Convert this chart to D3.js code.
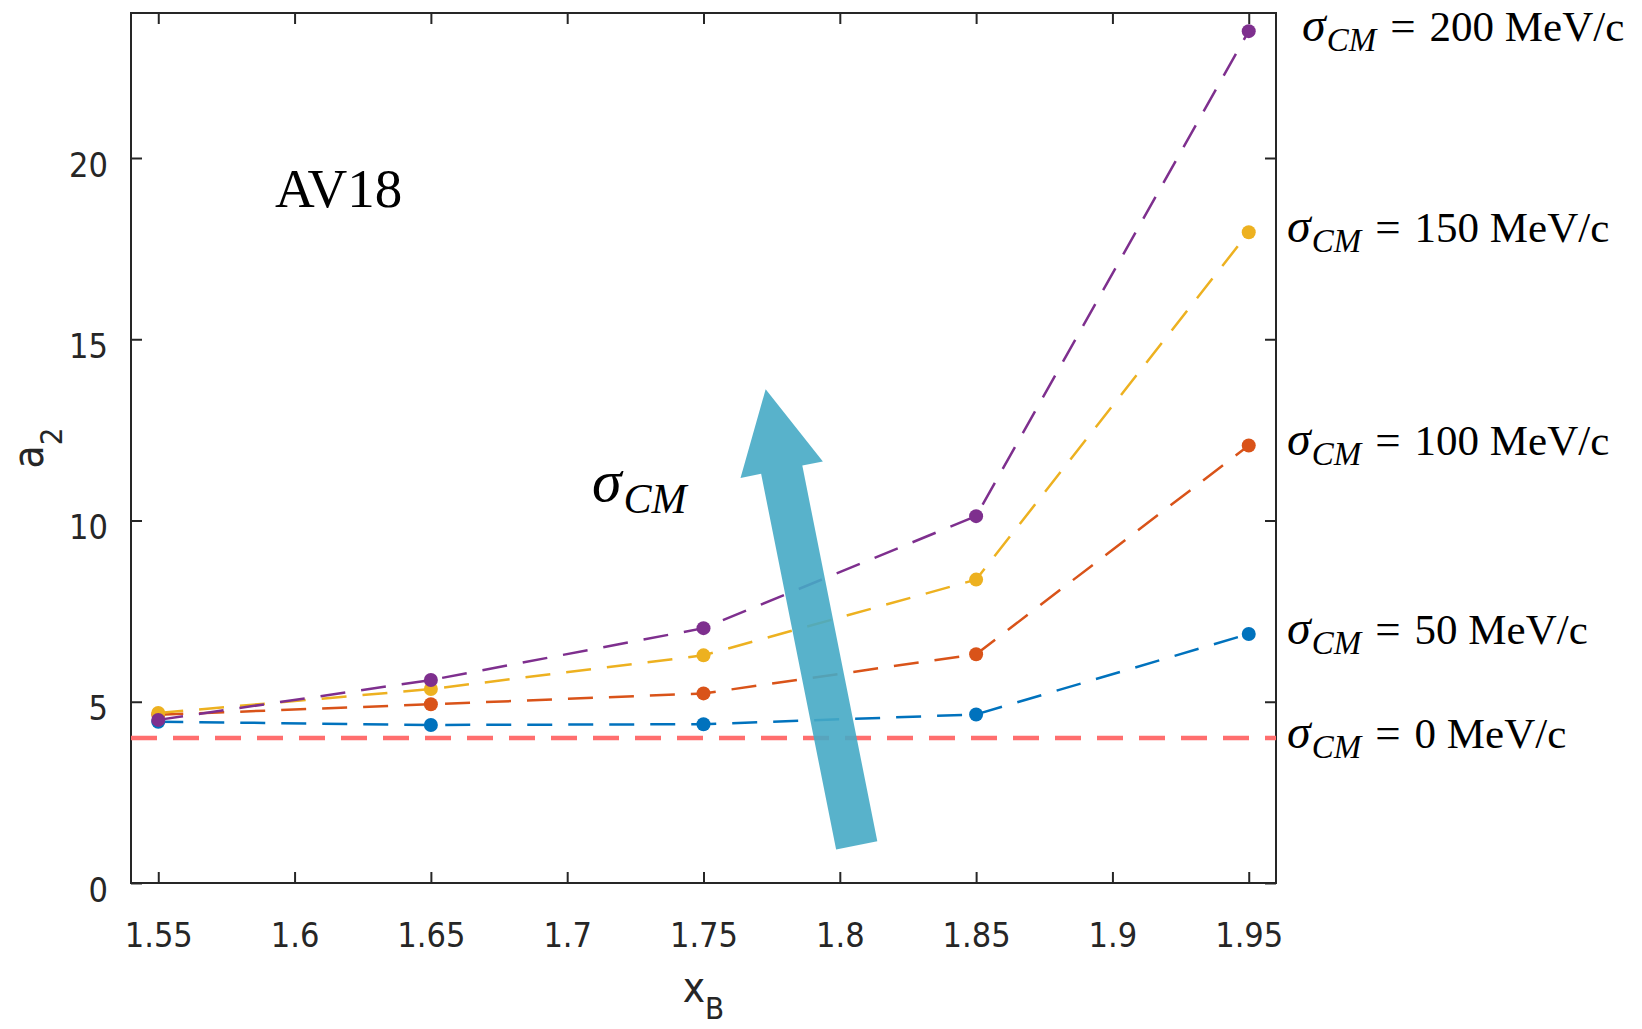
<!DOCTYPE html>
<html>
<head>
<meta charset="utf-8">
<script src="https://cdn.jsdelivr.net/npm/d3@7"></script>
<style>
  body { margin: 0; background: #fff; }
  svg { display: block; }
</style>
</head>
<body>
<div id="chart"></div>
<script>
let width = 1642, height = 1029;
let margin = {left: 131, right: 366, top: 13, bottom: 146};
let plotW = width - margin.left - margin.right,
    plotH = height - margin.top - margin.bottom;

// data
let xValues = [1.55, 1.65, 1.75, 1.85, 1.95];
let a2_50 = [4.45, 4.36, 4.38, 4.65, 6.87];
let a2_100 = [4.64, 4.93, 5.23, 6.31, 12.07];
let a2_150 = [4.69, 5.35, 6.28, 8.37, 17.95];
let a2_200 = [4.50, 5.60, 7.03, 10.12, 23.50];
let a2_0 = 4.0;

let seriesNames = ['50', '100', '150', '200'];
let seriesValues = [a2_50, a2_100, a2_150, a2_200];
let seriesColors = ['#0072bd', '#d95319', '#edb120', '#7e2f8e'];

let xTicks = [1.55, 1.6, 1.65, 1.7, 1.75, 1.8, 1.85, 1.9, 1.95];
let xTickLabels = ['1.55', '1.6', '1.65', '1.7', '1.75', '1.8', '1.85', '1.9', '1.95'];
let yTicks = [0, 5, 10, 15, 20];
let yTickLabels = ['0', '5', '10', '15', '20'];
let xDomain = [1.54, 1.96], yDomain = [0, 24];

// annotation anchors, in data units
let arrowTail = [1.8062, 1.04], arrowTip = [1.7728, 13.62];
let av18Pos = [1.5928, 18.65];
let sigmaPos = [1.7091, 10.55];

let axisColor = '#262626';
let tickFont = "'DejaVu Sans Condensed', 'DejaVu Sans', sans-serif";
let serif = "'Liberation Serif', 'Times New Roman', serif";

let svg = d3.select('#chart')
    .append('svg')
    .attr('width', width)
    .attr('height', height)
    .style('background', '#fff');

let g = svg.append('g')
    .attr('transform', `translate(${margin.left},${margin.top})`);

let x = d3.scaleLinear().domain(xDomain).range([0, plotW]);
let y = d3.scaleLinear().domain(yDomain).range([plotH, 0]);

// axes, ticks pointing in
let xAxis = g.append('g')
    .attr('transform', `translate(0,${plotH})`)
    .call(d3.axisBottom(x).tickValues(xTicks).tickFormat((d, i) => xTickLabels[i])
        .tickSizeInner(-11).tickSizeOuter(0).tickPadding(0));
xAxis.selectAll('text').attr('dy', null).attr('y', 64);

let yAxis = g.append('g')
    .call(d3.axisLeft(y).tickValues(yTicks).tickFormat((d, i) => yTickLabels[i])
        .tickSizeInner(-11).tickSizeOuter(0).tickPadding(23));
yAxis.selectAll('text').attr('dy', null).attr('y', 18);

g.append('g')
    .call(d3.axisTop(x).tickValues(xTicks).tickFormat('').tickSizeInner(-11).tickSizeOuter(0));
g.append('g')
    .attr('transform', `translate(${plotW},0)`)
    .call(d3.axisRight(y).tickValues(yTicks).tickFormat('').tickSizeInner(-11).tickSizeOuter(0));

g.selectAll('.domain').remove();
g.selectAll('.tick line').attr('stroke', axisColor).attr('stroke-width', 2);
g.selectAll('.tick text')
    .attr('fill', axisColor)
    .style('font-family', tickFont)
    .style('font-stretch', 'condensed')
    .style('font-size', '34px');

g.append('rect')
    .attr('width', plotW)
    .attr('height', plotH)
    .attr('fill', 'none')
    .attr('stroke', axisColor)
    .attr('stroke-width', 2);

// sigma_CM = 0 reference line
g.append('line')
    .attr('x1', x(xDomain[0]))
    .attr('x2', x(xDomain[1]))
    .attr('y1', y(a2_0))
    .attr('y2', y(a2_0))
    .attr('stroke', '#ff6e6e')
    .attr('stroke-width', 4.5)
    .attr('stroke-dasharray', '26 16');

let line = d3.line()
    .x((d, i) => x(xValues[i]))
    .y(d => y(d));

seriesValues.forEach((vals, k) => {
    g.append('path')
        .datum(vals)
        .attr('d', line)
        .attr('fill', 'none')
        .attr('stroke', seriesColors[k])
        .attr('stroke-width', 2.5)
        .attr('stroke-dasharray', '25 16');
    g.selectAll('.pt' + k)
        .data(vals)
        .enter()
        .append('circle')
        .attr('cx', (d, i) => x(xValues[i]))
        .attr('cy', d => y(d))
        .attr('r', 7)
        .attr('fill', seriesColors[k]);
});

// big arrow
let tail = [x(arrowTail[0]), y(arrowTail[1])],
    tip = [x(arrowTip[0]), y(arrowTip[1])];
let len = Math.hypot(tip[0] - tail[0], tip[1] - tail[1]);
let ux = (tip[0] - tail[0]) / len, uy = (tip[1] - tail[1]) / len;
let nx = -uy, ny = ux;
let shaftW = 21, headW = 42, headL = 82;
let base = [tip[0] - ux * headL, tip[1] - uy * headL];
let arrowPts = [
    [tail[0] + nx * shaftW, tail[1] + ny * shaftW],
    [base[0] + nx * shaftW, base[1] + ny * shaftW],
    [base[0] + nx * headW, base[1] + ny * headW],
    tip,
    [base[0] - nx * headW, base[1] - ny * headW],
    [base[0] - nx * shaftW, base[1] - ny * shaftW],
    [tail[0] - nx * shaftW, tail[1] - ny * shaftW]
];
g.append('path')
    .attr('d', d3.line()(arrowPts) + 'Z')
    .attr('fill', '#46aac5')
    .attr('fill-opacity', 0.9);

// text annotations
g.append('text')
    .attr('x', x(av18Pos[0]))
    .attr('y', y(av18Pos[1]))
    .style('font-family', serif)
    .style('font-size', '55px')
    .attr('fill', '#000')
    .text('AV18');

let sig = g.append('text')
    .attr('x', x(sigmaPos[0]))
    .attr('y', y(sigmaPos[1]))
    .style('font-family', serif)
    .style('font-style', 'italic')
    .attr('fill', '#000');
sig.append('tspan').style('font-size', '60px').text('σ');
sig.append('tspan').style('font-size', '42px').attr('dx', 2).attr('dy', 12).text('CM');

// right-hand labels
let labelNames = ['0'].concat(seriesNames);
let labelValues = [a2_0].concat(seriesValues.map(v => v[v.length - 1]));
labelNames.forEach((name, i) => {
    let t = g.append('text')
        .attr('x', plotW + (name === '200' ? 26 : 11))
        .attr('y', y(labelValues[i]) + 10)
        .style('font-family', serif)
        .attr('fill', '#000');
    t.append('tspan').style('font-style', 'italic').style('font-size', '48px').text('σ');
    t.append('tspan').style('font-style', 'italic').style('font-size', '33px').attr('dx', 1).attr('dy', 10).text('CM');
    t.append('tspan').style('font-size', '45px').attr('dy', -10).attr('dx', 14).text('=');
    t.append('tspan').style('font-size', '43px').attr('dx', 14).text(name + ' MeV/c');
});

// axis titles
let xl = g.append('text')
    .attr('x', plotW / 2)
    .attr('y', plotH + 119)
    .attr('text-anchor', 'middle')
    .style('font-family', tickFont)
    .attr('fill', axisColor);
xl.append('tspan').style('font-size', '42px').text('x');
xl.append('tspan').style('font-size', '31px').attr('dy', 17).text('B');

let yl = g.append('text')
    .attr('transform', `translate(${43 - margin.left},${plotH / 2}) rotate(-90)`)
    .attr('text-anchor', 'middle')
    .style('font-family', tickFont)
    .attr('fill', axisColor);
yl.append('tspan').style('font-size', '42px').text('a');
yl.append('tspan').style('font-size', '31px').attr('dy', 19).text('2');
</script>
</body>
</html>
